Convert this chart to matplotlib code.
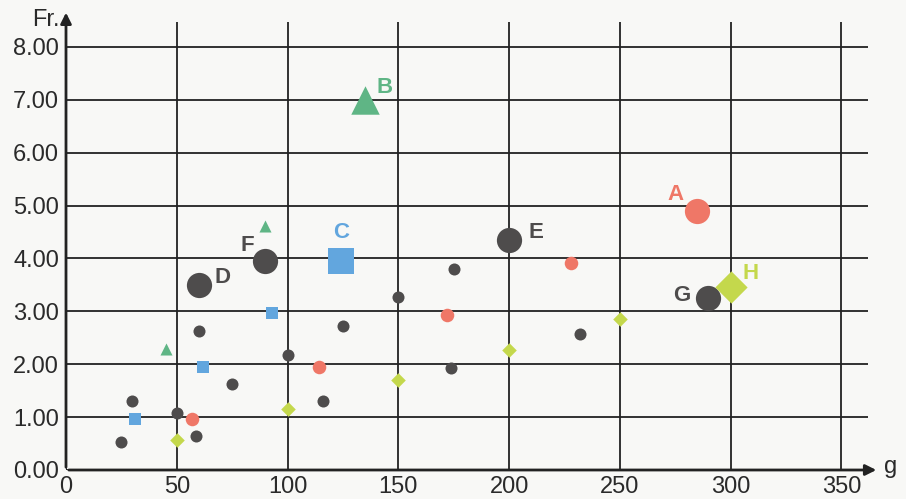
import matplotlib
matplotlib.use("Agg")
import matplotlib.pyplot as plt

plt.rcParams['font.family'] = ['Liberation Sans', 'DejaVu Sans']

# small grey dots
grey_x = [25, 30, 50, 58.5, 60, 75, 100, 116, 125, 150, 175, 174, 232]
grey_y = [0.52, 1.3, 1.07, 0.65, 2.62, 1.62, 2.17, 1.3, 2.72, 3.27, 3.8, 1.93, 2.58]
# small red dots
red_x = [57, 114, 172, 228]
red_y = [0.97, 1.95, 2.93, 3.92]
# small blue squares
blue_x = [31, 62, 93]
blue_y = [0.97, 1.94, 2.97]
# small green triangles
green_x = [45, 90]
green_y = [2.28, 4.62]
# small yellow diamonds
yel_x = [50, 100, 150, 200, 250]
yel_y = [0.57, 1.15, 1.71, 2.27, 2.85]

# labelled big points
big_names = ['A', 'B', 'C', 'D', 'E', 'F', 'G', 'H']
big_x = [285, 135, 124, 60, 200, 90, 290, 300]
big_y = [4.9, 7.0, 3.96, 3.5, 4.35, 3.95, 3.25, 3.46]

x_ticks = [0, 50, 100, 150, 200, 250, 300, 350]
y_ticks = [0, 1, 2, 3, 4, 5, 6, 7, 8]

GREY = '#4e4c4c'
RED = '#ef7767'
BLUE = '#62a6de'
GREEN = '#5fb585'
YEL = '#c4d84c'

fig = plt.figure(figsize=(9.06, 4.99), dpi=100)
fig.patch.set_facecolor('#f8f8f6')
ax = fig.add_axes([66 / 906, 29 / 499, 802 / 906, 448 / 499])
ax.set_facecolor('#f8f8f6')
ax.set_xlim(0, 362)
ax.set_ylim(0, 8.47)

ax.set_xticks(x_ticks)
ax.set_yticks(y_ticks)
ax.set_yticklabels([f"{v:.2f}" for v in y_ticks])
ax.tick_params(length=0, labelsize=17, colors='#2a2a2a', pad=5)
ax.tick_params(axis='x', pad=4)
ax.grid(True, color='#222222', linewidth=1.3)
ax.set_axisbelow(True)
for s in ['top', 'right', 'left', 'bottom']:
    ax.spines[s].set_visible(False)

# axes with arrows
ax.annotate('', xy=(367, 0), xytext=(0, 0), annotation_clip=False,
            arrowprops=dict(arrowstyle='-|>', color='#222222', lw=2, mutation_scale=16))
ax.annotate('', xy=(0, 8.7), xytext=(0, 0), annotation_clip=False,
            arrowprops=dict(arrowstyle='-|>', color='#222222', lw=2, mutation_scale=16))
ax.text(369, 0.06, 'g', fontsize=17, color='#2a2a2a', va='center', ha='left', clip_on=False)
ax.text(-3, 8.5, 'Fr.', fontsize=17, color='#2a2a2a', va='center', ha='right', clip_on=False)

ax.scatter(grey_x, grey_y, s=75, c=GREY, marker='o', zorder=3, linewidths=0)
ax.scatter(red_x, red_y, s=95, c=RED, marker='o', zorder=3, linewidths=0)
ax.scatter(blue_x, blue_y, s=65, c=BLUE, marker='s', zorder=3, linewidths=0)
ax.scatter(green_x, green_y, s=75, c=GREEN, marker='^', zorder=3, linewidths=0)
ax.scatter(yel_x, yel_y, s=55, c=YEL, marker='D', zorder=3, linewidths=0)

big_col = [RED, GREEN, BLUE, GREY, GREY, GREY, GREY, YEL]
big_mark = ['o', '^', 's', 'o', 'o', 'o', 'o', 'D']
big_size = [330, 420, 330, 330, 330, 330, 330, 270]
# label offsets in points
offs = [(-16, 12), (14, 9), (0, 20), (17, 5), (19, 5), (-13, 11), (-19, 2), (14, 10)]
for n, x, y, c, m, sz, o in zip(big_names, big_x, big_y, big_col, big_mark, big_size, offs):
    ax.scatter([x], [y], s=sz, c=c, marker=m, zorder=4, linewidths=0)
    ax.annotate(n, (x, y), xytext=o, textcoords='offset points', ha='center', va='center',
                fontsize=16, fontweight='bold', color=c, zorder=5)

fig.savefig('out.png', dpi=100, facecolor=fig.get_facecolor())
